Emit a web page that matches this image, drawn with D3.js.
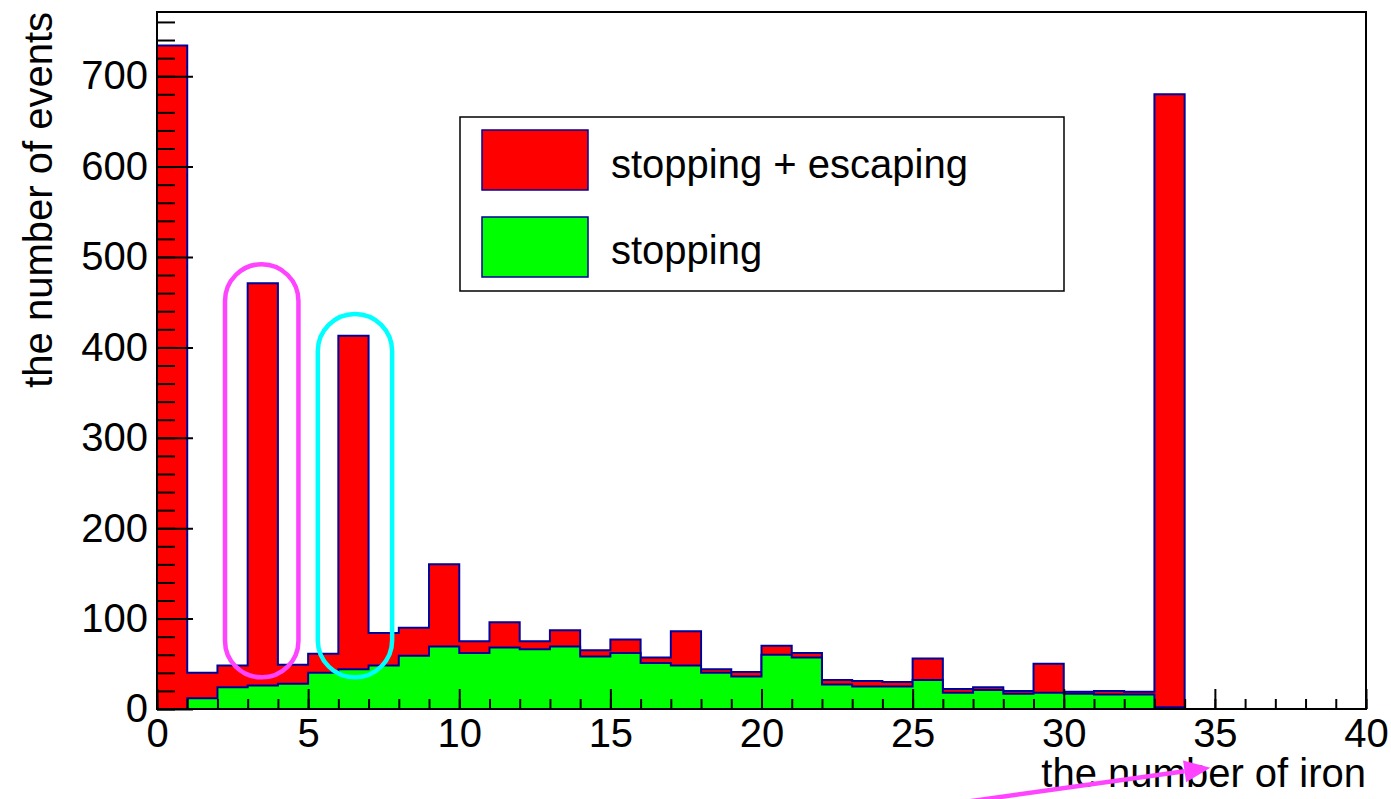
<!DOCTYPE html>
<html>
<head>
<meta charset="utf-8">
<script src="https://cdn.jsdelivr.net/npm/d3@7"></script>
<style>
  html, body { margin: 0; padding: 0; background: #fff; }
  svg { display: block; font-family: "Liberation Sans", Arial, Helvetica, sans-serif; }
</style>
</head>
<body>
<div id="chart"></div>
<script>
// bin edges: 40 bins of width 1 from 0 to 40
const binLow = d3.range(0, 40);
// stopping + escaping (red)
const totalCounts = [734, 40, 48, 471, 49, 61, 413, 84, 90, 160,
  75, 96, 75, 87, 65, 77, 57, 86, 44, 41,
  70, 62, 32, 31, 30, 56, 22, 24, 20, 50,
  19, 20, 19, 680, 0, 0, 0, 0, 0, 0];
// stopping only (green)
const stoppingCounts = [0, 12, 24, 26, 28, 40, 44, 48, 59, 69,
  62, 68, 66, 69, 58, 62, 51, 48, 40, 36,
  60, 57, 27, 25, 25, 32, 18, 21, 17, 18,
  17, 16, 16, 2, 0, 0, 0, 0, 0, 0];
const legendLabels = ["stopping + escaping", "stopping"];
const xMajorTicks = d3.range(0, 41, 5);
const xMinorTicks = d3.range(0, 41, 1);
const yMajorTicks = d3.range(0, 701, 100);
const yMinorTicks = d3.range(0, 771, 20);
// hand-drawn marks on the figure, in data units
const loops = [
  { x0: 2.25, x1: 4.68, yTop: 492, yBot: 35, color: "#ff44ff" },
  { x0: 5.32, x1: 7.78, yTop: 437, yBot: 35, color: "#00ffff" }
];
const arrow = { x1: 26.9, y1: -102, x2: 34.85, y2: -65 };

(function(){
const W = 1391, H = 799;
const padL = 157, padR = 1366, padT = 12, padB = 709;
const outline = "#000099";

const svg = d3.select("#chart").append("svg")
  .attr("width", W).attr("height", H);

const x = d3.scaleLinear().domain([0, 40]).range([padL, padR]);
const y = d3.scaleLinear().domain([0, 771]).range([padB, padT]);

// step outline points for a histogram
function steps(counts) {
  const pts = [[0, 0]];
  binLow.forEach((b, i) => {
    pts.push([b, counts[i]]);
    pts.push([b + 1, counts[i]]);
  });
  pts.push([40, 0]);
  return pts;
}

const area = d3.area().x(d => x(d[0])).y0(y(0)).y1(d => y(d[1]));
const line = d3.line().x(d => x(d[0])).y(d => y(d[1]));

[[totalCounts, "#ff0000"], [stoppingCounts, "#00ff00"]].forEach(([counts, fill]) => {
  const pts = steps(counts);
  svg.append("path").attr("d", area(pts)).attr("fill", fill);
  svg.append("path").attr("d", line(pts))
    .attr("fill", "none").attr("stroke", outline).attr("stroke-width", 2);
});

// x axis
const xMinor = svg.append("g").attr("transform", `translate(0,${padB})`)
  .call(d3.axisBottom(x).tickValues(xMinorTicks).tickSize(-10).tickFormat(""));
const xMajor = svg.append("g").attr("transform", `translate(0,${padB})`)
  .call(d3.axisBottom(x).tickValues(xMajorTicks).tickSize(-20).tickPadding(10).tickFormat(d3.format("d")));

// y axis
const yMinor = svg.append("g").attr("transform", `translate(${padL},0)`)
  .call(d3.axisLeft(y).tickValues(yMinorTicks).tickSize(-18).tickFormat(""));
const yMajor = svg.append("g").attr("transform", `translate(${padL},0)`)
  .call(d3.axisLeft(y).tickValues(yMajorTicks).tickSize(-36).tickPadding(9).tickFormat(d3.format("d")));

[xMinor, xMajor, yMinor, yMajor].forEach(g => {
  g.select(".domain").remove();
  g.selectAll("line").attr("stroke", "#000").attr("stroke-width", 2);
  g.selectAll("text").attr("fill", "#000")
    .style("font-size", "40px")
    .style("font-family", "'Liberation Sans', Arial, sans-serif");
});

// frame
svg.append("rect")
  .attr("x", padL).attr("y", padT)
  .attr("width", padR - padL).attr("height", padB - padT)
  .attr("fill", "none").attr("stroke", "#000").attr("stroke-width", 2);

// axis titles
svg.append("text")
  .attr("x", padR).attr("y", 787)
  .attr("text-anchor", "end")
  .style("font-size", "40px")
  .text("the number of iron");

svg.append("text")
  .attr("transform", `translate(52,${padT}) rotate(-90)`)
  .attr("text-anchor", "end")
  .style("font-size", "40px")
  .text("the number of events");

// legend
const legend = svg.append("g");
legend.append("rect")
  .attr("x", 460).attr("y", 117).attr("width", 604).attr("height", 174)
  .attr("fill", "#fff").attr("stroke", "#000").attr("stroke-width", 1.5);
const legendFills = ["#ff0000", "#00ff00"];
legendLabels.forEach((lab, i) => {
  legend.append("rect")
    .attr("x", 482).attr("y", 130 + i * 87).attr("width", 106).attr("height", 60)
    .attr("fill", legendFills[i]).attr("stroke", outline).attr("stroke-width", 1.5);
  legend.append("text")
    .attr("x", 611).attr("y", 178 + i * 86)
    .style("font-size", "40px")
    .text(lab);
});

// annotation loops
loops.forEach(l => {
  const w = x(l.x1) - x(l.x0);
  svg.append("rect")
    .attr("x", x(l.x0)).attr("y", y(l.yTop))
    .attr("width", w).attr("height", y(l.yBot) - y(l.yTop))
    .attr("rx", w / 2).attr("ry", w / 2)
    .attr("fill", "none").attr("stroke", l.color).attr("stroke-width", 4.5);
});

// annotation arrow
const ax1 = x(arrow.x1), ay1 = y(arrow.y1), ax2 = x(arrow.x2), ay2 = y(arrow.y2);
const ang = Math.atan2(ay2 - ay1, ax2 - ax1);
const headLen = 26, headHalf = 11;
const bx = ax2 - headLen * Math.cos(ang), by = ay2 - headLen * Math.sin(ang);
svg.append("line")
  .attr("x1", ax1).attr("y1", ay1).attr("x2", bx).attr("y2", by)
  .attr("stroke", "#ff44ff").attr("stroke-width", 4.5);
svg.append("path")
  .attr("d", `M${ax2},${ay2}L${bx - headHalf * Math.sin(ang)},${by + headHalf * Math.cos(ang)}L${bx + headHalf * Math.sin(ang)},${by - headHalf * Math.cos(ang)}Z`)
  .attr("fill", "#ff44ff");
})();
</script>
</body>
</html>
